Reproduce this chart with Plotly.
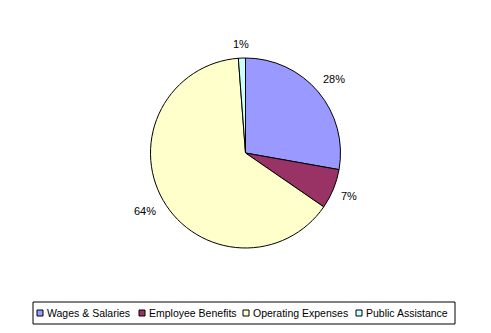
import math
import plotly.graph_objects as go

# Spending shares by category
categories = ["Wages & Salaries", "Employee Benefits", "Operating Expenses", "Public Assistance"]
shares = [27.8, 6.8, 64.2, 1.2]
colors = ["#9999FF", "#993366", "#FFFFCC", "#CCFFFF"]

W, H = 491, 333
FONT = "Liberation Sans, Arial, sans-serif"

# Pie placement in pixels
CX, TOP, BOTTOM = W / 2, 58, 248
R = (BOTTOM - TOP) / 2
CY = (TOP + BOTTOM) / 2


def px(x):
    return x / W


def py(y):
    return 1 - y / H


fig = go.Figure(
    go.Pie(
        labels=categories,
        values=shares,
        sort=False,
        direction="clockwise",
        rotation=0,
        marker=dict(colors=colors, line=dict(color="black", width=1)),
        textinfo="none",
        domain=dict(x=[0, 1], y=[py(BOTTOM), py(TOP)]),
        showlegend=False,
        hoverinfo="label+percent",
    )
)

annotations = []

# Percentage labels just outside each slice, at the slice's middle angle
total = sum(shares)
start = 0.0
for v in shares:
    frac = v / total
    mid = (start + frac / 2) * 2 * math.pi
    start += frac
    dx, dy = math.sin(mid), -math.cos(mid)
    text = f"{round(frac * 100)}%"
    half_w, half_h = len(text) * 3.7, 6
    dist = R + 8 + abs(dx) * half_w + abs(dy) * half_h
    annotations.append(dict(xref="paper", yref="paper",
                            x=px(CX + dx * dist), y=py(CY + dy * dist),
                            xanchor="center", yanchor="middle", showarrow=False,
                            text=text, font=dict(family=FONT, size=11, color="black")))

# Boxed legend along the bottom edge
legend_x = [37, 139, 243, 356]
legend_y = 313
shapes = [
    dict(type="rect", xref="paper", yref="paper",
         x0=px(33), x1=px(455), y0=py(324), y1=py(302),
         line=dict(color="black", width=1), fillcolor="rgba(0,0,0,0)")
]
for name, col, x in zip(categories, colors, legend_x):
    shapes.append(dict(type="rect", xref="paper", yref="paper",
                       x0=px(x), x1=px(x + 6),
                       y0=py(legend_y + 3), y1=py(legend_y - 3),
                       line=dict(color="black", width=1), fillcolor=col))
    annotations.append(dict(xref="paper", yref="paper", x=px(x + 8), y=py(legend_y),
                            xanchor="left", yanchor="middle", showarrow=False,
                            text=name, font=dict(family=FONT, size=10.5, color="black")))

fig.update_layout(
    width=W, height=H, autosize=False,
    margin=dict(l=0, r=0, t=0, b=0, pad=0, autoexpand=False),
    xaxis=dict(visible=False), yaxis=dict(visible=False),
    paper_bgcolor="white", plot_bgcolor="white",
    shapes=shapes, annotations=annotations,
)

fig.write_html("out.html")
